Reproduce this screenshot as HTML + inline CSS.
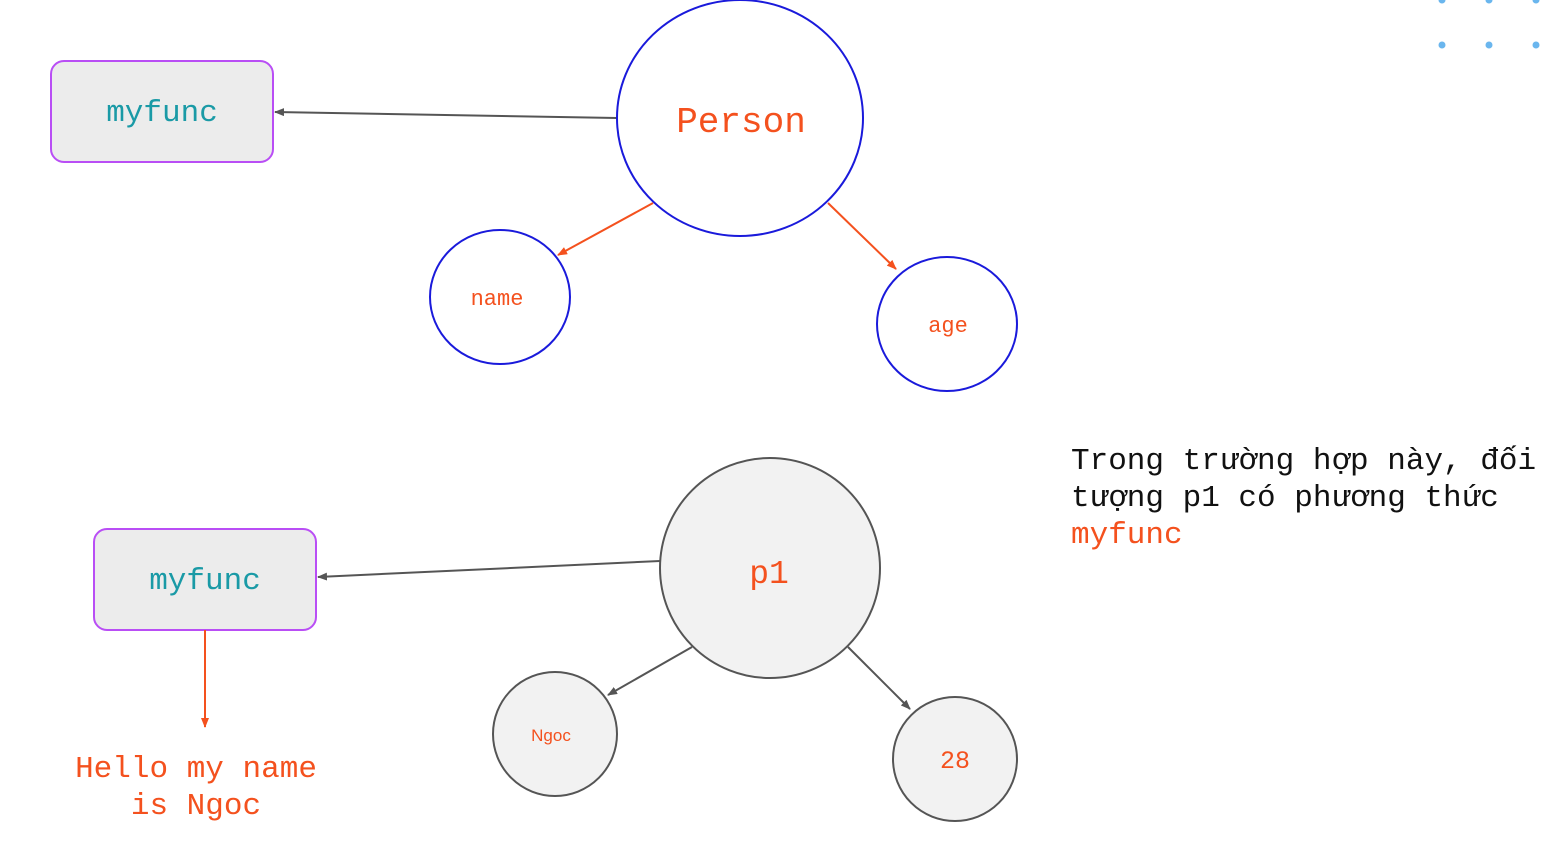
<!DOCTYPE html>
<html><head><meta charset="utf-8"><style>html,body{margin:0;padding:0;background:#fff;}svg{display:block}</style></head>
<body>
<svg width="1549" height="841" xmlns="http://www.w3.org/2000/svg" font-family="'Liberation Mono', monospace">
<defs>
<marker id="ag" markerWidth="10" markerHeight="8" refX="9" refY="4" orient="auto" markerUnits="userSpaceOnUse"><path d="M0,0 L10,4 L0,8 z" fill="#555"/></marker>
<marker id="ao" markerWidth="10" markerHeight="8" refX="9" refY="4" orient="auto" markerUnits="userSpaceOnUse"><path d="M0,0 L10,4 L0,8 z" fill="#f4511e"/></marker>
</defs>
<g fill="#6ab6ee">
<circle cx="1442" cy="0" r="3.5"/><circle cx="1489" cy="0" r="3.5"/><circle cx="1536" cy="0" r="3.5"/>
<circle cx="1442" cy="45" r="3.5"/><circle cx="1489" cy="45" r="3.5"/><circle cx="1536" cy="45" r="3.5"/>
</g>
<!-- top -->
<rect x="51" y="61" width="222" height="101" rx="13" fill="#ececec" stroke="#b94ef5" stroke-width="2"/>
<text x="162" y="121" font-size="31" fill="#1a9aa6" text-anchor="middle">myfunc</text>
<line x1="617" y1="118" x2="275" y2="112" stroke="#555" stroke-width="2" marker-end="url(#ag)"/>
<ellipse cx="740" cy="118" rx="123" ry="118" fill="#fff" stroke="#1a1adb" stroke-width="2"/>
<text x="741" y="132" font-size="36" fill="#f4511e" text-anchor="middle">Person</text>
<line x1="653" y1="203" x2="558" y2="255" stroke="#f4511e" stroke-width="2" marker-end="url(#ao)"/>
<line x1="828" y1="203" x2="896" y2="269" stroke="#f4511e" stroke-width="2" marker-end="url(#ao)"/>
<ellipse cx="500" cy="297" rx="70" ry="67" fill="#fff" stroke="#1a1adb" stroke-width="2"/>
<text x="497" y="305" font-size="22" fill="#f4511e" text-anchor="middle">name</text>
<ellipse cx="947" cy="324" rx="70" ry="67" fill="#fff" stroke="#1a1adb" stroke-width="2"/>
<text x="948" y="332" font-size="22" fill="#f4511e" text-anchor="middle">age</text>
<!-- bottom -->
<rect x="94" y="529" width="222" height="101" rx="13" fill="#ececec" stroke="#b94ef5" stroke-width="2"/>
<text x="205" y="589" font-size="31" fill="#1a9aa6" text-anchor="middle">myfunc</text>
<line x1="660" y1="561" x2="318" y2="577" stroke="#555" stroke-width="2" marker-end="url(#ag)"/>
<line x1="205" y1="630" x2="205" y2="727" stroke="#f4511e" stroke-width="2" marker-end="url(#ao)"/>
<text x="196" y="777" font-size="31" fill="#f4511e" text-anchor="middle">Hello my name</text>
<text x="196" y="814" font-size="31" fill="#f4511e" text-anchor="middle">is Ngoc</text>
<circle cx="770" cy="568" r="110" fill="#f2f2f2" stroke="#555" stroke-width="2"/>
<text x="769" y="583" font-size="33" fill="#f4511e" text-anchor="middle">p1</text>
<line x1="692" y1="647" x2="608" y2="695" stroke="#555" stroke-width="2" marker-end="url(#ag)"/>
<line x1="848" y1="647" x2="910" y2="709" stroke="#555" stroke-width="2" marker-end="url(#ag)"/>
<circle cx="555" cy="734" r="62" fill="#f2f2f2" stroke="#555" stroke-width="2"/>
<text x="551" y="741" font-size="17" fill="#f4511e" text-anchor="middle" font-family="'Liberation Sans', sans-serif">Ngoc</text>
<circle cx="955" cy="759" r="62" fill="#f2f2f2" stroke="#555" stroke-width="2"/>
<text x="955" y="768" font-size="25" fill="#f4511e" text-anchor="middle">28</text>
<!-- note -->
<g font-size="31" fill="#111">
<text x="1071" y="469">Trong trường hợp này, đối</text>
<text x="1071" y="506">tượng p1 có phương thức</text>
<text x="1071" y="543" fill="#f4511e">myfunc</text>
</g>
</svg>
</body></html>
